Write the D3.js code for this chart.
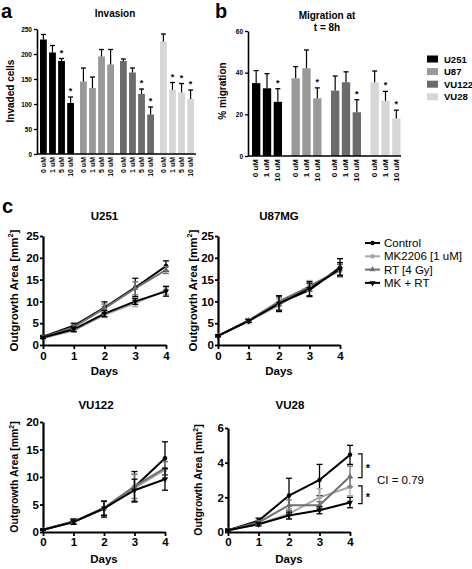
<!DOCTYPE html>
<html><head><meta charset="utf-8">
<script src="https://cdn.jsdelivr.net/npm/d3@7"></script>
<style>
body{margin:0;background:#fff;}
svg{display:block;font-family:"Liberation Sans",Arial,sans-serif;}
</style></head>
<body><svg id="c" width="472" height="569"></svg>
<script>
// ---------- data ----------
const cellLines = ["U251","U87","VU122","VU28"];
const barColors = ["#000000","#999999","#6b6b6b","#d6d6d6"];
const invConc = ["0 uM","1 uM","5 uM","10 uM"];
const invMean = [[229,203,186,102],[145,132,195,179],[186,163,120,79],[225,128,123,110]];
const invErr  = [[10,14,5,12],[27,22,14,30],[4,9,10,15],[15,15,18,18]];
const invStar = [[0,0,1,1],[0,0,0,0],[0,0,1,1],[0,1,1,1]];
const invTicks = [0,50,100,150,200,250];

const migConc = ["0 uM","1 uM","10 uM"];
const migMean = [[35,32.5,26],[37.3,42.1,27.7],[31.4,35.4,21],[35.4,26.5,18]];
const migErr  = [[6,7,6.3],[5.6,8.8,5],[7,5,6],[5.4,4.5,4]];
const migStar = [[0,0,1],[0,0,1],[0,0,1],[0,1,1]];
const migTicks = [0,20,40,60];

const days = [0,1,2,3,4];
const treatments = ["Control","MK2206 [1 uM]","RT [4 Gy]","MK + RT"];
const treatColors = ["#000000","#a8a8a8","#707070","#000000"];
const treatSymbols = ["circle","square","triangle","triangleDown"];

const u251Mean = [[1.9,4.4,8.6,13.2,18.1],[1.6,3.3,6.9,9.6,12.6],[1.8,4.1,8.4,13.0,17.2],[1.7,3.6,7.2,10.0,12.3]];
const u251Err  = [[0.3,0.6,1.3,2.1,1.2],[0.2,0.4,0.6,0.8,1.0],[0.2,0.5,1.0,1.5,0.8],[0.2,0.5,0.7,0.7,1.1]];
const u87Mean  = [[2.1,5.6,9.6,12.6,17.8],[2.1,5.5,9.1,13.6,17.0],[2.1,5.6,10.0,13.4,17.3],[2.1,5.5,9.5,12.9,17.4]];
const u87Err   = [[0.2,0.4,1.6,1.5,2.0],[0.2,0.6,1.5,1.2,1.5],[0.2,0.4,1.0,1.1,1.2],[0.2,0.3,1.8,1.6,1.5]];
const vu122Mean= [[0.4,1.9,4.2,8.2,13.4],[0.4,1.8,4.3,8.0,11.3],[0.4,1.9,4.4,8.3,11.6],[0.4,1.8,4.3,7.6,9.6]];
const vu122Err = [[0.1,0.5,1.5,2.8,3.0],[0.1,0.4,1.2,2.5,1.5],[0.1,0.4,1.3,2.2,1.2],[0.1,0.4,1.3,2.0,2.0]];
const vu28Mean = [[0.1,0.65,2.1,3.0,4.45],[0.1,0.45,1.05,2.0,2.6],[0.1,0.55,1.55,1.55,3.2],[0.1,0.45,0.95,1.25,1.7]];
const vu28Err  = [[0.05,0.15,1.0,0.9,0.55],[0.05,0.1,0.3,0.5,0.5],[0.05,0.1,0.3,0.2,0.6],[0.05,0.1,0.2,0.2,0.3]];

// ---------- drawing ----------
const svg = d3.select("#c");

function txt(x,y,s,size,bold,anchor,rot){
  const t = svg.append("text").attr("x",x).attr("y",y).text(s)
    .attr("font-size",size).attr("text-anchor",anchor||"start")
    .attr("font-weight",bold?"bold":"normal").attr("fill","#000");
  if(rot) t.attr("transform",`rotate(${rot},${x},${y})`);
  return t;
}

function barPanel(o){
  const g = svg.append("g");
  const y = d3.scaleLinear().domain([0,o.max]).range([o.y0,o.y1]);
  const xg = d3.scaleBand().domain(cellLines).range(o.xr).paddingInner(o.gpad).paddingOuter(0);
  const xb = d3.scaleBand().domain(o.conc).range([0,xg.bandwidth()]).paddingInner(o.bpad).paddingOuter(0);
  const ax = g.append("g").attr("transform",`translate(${o.ax},0)`)
    .call(d3.axisLeft(y).tickValues(o.ticks).tickSize(3).tickSizeOuter(0));
  ax.select(".domain").attr("stroke-width",1.6);
  ax.selectAll(".tick line").attr("stroke-width",1.3);
  ax.selectAll(".tick text").attr("font-size",6.5).attr("font-weight","bold").attr("font-family","Liberation Sans, Arial").attr("dx",1);
  cellLines.forEach((cl,gi)=>{
    o.conc.forEach((c,bi)=>{
      const v = o.mean[gi][bi], e = o.err[gi][bi];
      const x0 = xg(cl)+xb(c), w = xb.bandwidth(), cx = x0+w/2;
      g.append("rect").attr("x",x0).attr("y",y(v)).attr("width",w).attr("height",y(0)-y(v)).attr("fill",barColors[gi]);
      g.append("line").attr("x1",cx).attr("x2",cx).attr("y1",y(v)).attr("y2",y(v+e)).attr("stroke","#000").attr("stroke-width",1.2);
      g.append("line").attr("x1",cx-2.5).attr("x2",cx+2.5).attr("y1",y(v+e)).attr("y2",y(v+e)).attr("stroke","#000").attr("stroke-width",1.3);
      if(o.star[gi][bi]) txt(cx,y(v+e)-3,"*",9,true,"middle");
      txt(cx+2.3,y(0)+3,c,o.lsize,true,"end",-90);
    });
  });
  g.append("line").attr("x1",o.ax).attr("x2",o.xend).attr("y1",y(0)).attr("y2",y(0)).attr("stroke","#000").attr("stroke-width",1.6);
}

barPanel({max:250,y0:154,y1:29,ax:37,xr:[40,194],gpad:0.15,bpad:0.25,conc:invConc,mean:invMean,err:invErr,star:invStar,ticks:invTicks,xend:196,lsize:7});
barPanel({max:60,y0:156,y1:31,ax:248,xr:[252,400.5],gpad:0.24,bpad:0.23,conc:migConc,mean:migMean,err:migErr,star:migStar,ticks:migTicks,xend:401,lsize:8});

txt(1,18,"a",20,true);
txt(215,18,"b",20,true);
txt(115,17,"Invasion",10,true,"middle");
txt(327,19,"Migration at",10,true,"middle");
txt(327,31,"t = 8h",10,true,"middle");
txt(14,91,"Invaded cells",10,true,"middle",-90);
txt(226,91,"% migration",10,true,"middle",-90);

// legend a/b
cellLines.forEach((cl,i)=>{
  const yy = 59 + i*12.6;
  svg.append("rect").attr("x",427).attr("y",yy-3.5).attr("width",11).attr("height",7).attr("fill",barColors[i]);
  txt(444,yy+3.5,cl,9.5,true);
});

// ---------- growth panels ----------
const symMap = {circle:d3.symbolCircle,square:d3.symbolSquare,triangle:d3.symbolTriangle,triangleDown:d3.symbolTriangle};
function marker(g,x,y,i,size){
  const s = d3.symbol().type(symMap[treatSymbols[i]]).size(size||18);
  const p = g.append("path").attr("d",s()).attr("fill",treatColors[i]);
  p.attr("transform",`translate(${x},${y})`+(treatSymbols[i]==="triangleDown"?" rotate(180)":""));
}

function growthPanel(o){
  const g = svg.append("g");
  const x = d3.scaleLinear().domain([0,4]).range(o.xr);
  const y = d3.scaleLinear().domain([0,o.max]).range([o.y0,o.y1]);
  const ay = g.append("g").attr("transform",`translate(${o.xr[0]},0)`)
    .call(d3.axisLeft(y).tickValues(o.ticks).tickFormat(d3.format("d")).tickSize(3).tickSizeOuter(0).tickPadding(1));
  const ax = g.append("g").attr("transform",`translate(0,${o.y0})`)
    .call(d3.axisBottom(x).tickValues(days).tickFormat(d3.format("d")).tickSize(4).tickSizeOuter(0).tickPadding(o.xpad));
  [ay,ax].forEach(a=>{
    a.select(".domain").attr("stroke-width",2.2);
    a.selectAll(".tick line").attr("stroke-width",1.8);
    a.selectAll(".tick text").attr("font-size",11.5).attr("font-weight","bold").attr("font-family","Liberation Sans, Arial");
  });
  const line = d3.line().x((d,i)=>x(days[i])).y(d=>y(d));
  treatments.forEach((t,i)=>{
    g.append("path").datum(o.mean[i]).attr("d",line).attr("fill","none").attr("stroke",treatColors[i]).attr("stroke-width",2);
  });
  treatments.forEach((t,i)=>{
    o.mean[i].forEach((v,j)=>{
      const e = o.err[i][j], cx = x(days[j]);
      const ec = i===1 ? "#a8a8a8" : (i===2 ? "#707070" : "#000");
      g.append("line").attr("x1",cx).attr("x2",cx).attr("y1",y(v-e)).attr("y2",y(v+e)).attr("stroke",ec).attr("stroke-width",1.3);
      [v-e,v+e].forEach(z=>g.append("line").attr("x1",cx-3).attr("x2",cx+3).attr("y1",y(z)).attr("y2",y(z)).attr("stroke",ec).attr("stroke-width",1.3));
      marker(g,cx,y(v),i,16);
    });
  });
  txt((o.xr[0]+o.xr[1])/2+o.tdx,o.ty,o.title,11.5,true,"middle");
  txt((o.xr[0]+o.xr[1])/2,o.dy,"Days",11.5,true,"middle");
  const yl = svg.append("text").attr("font-weight","bold").attr("font-size",o.lfs).attr("text-anchor","middle")
    .attr("transform",`translate(${o.lx},${(o.y0+o.y1)/2}) rotate(-90)`);
  yl.append("tspan").text("Outgrowth Area [mm");
  yl.append("tspan").text("2").attr("font-size",o.lfs*0.65).attr("dy",-o.lfs*0.4);
  yl.append("tspan").text("]").attr("dy",o.lfs*0.4);
  return {x,y};
}

growthPanel({xr:[43,166],y0:345,y1:236,max:25,ticks:[0,5,10,15,20,25],mean:u251Mean,err:u251Err,title:"U251",ty:220,tdx:0,dy:375,lx:18,lfs:11.5,xpad:3});
growthPanel({xr:[218,340],y0:345,y1:236,max:25,ticks:[0,5,10,15,20,25],mean:u87Mean,err:u87Err,title:"U87MG",ty:220,tdx:0,dy:375,lx:197,lfs:11.5,xpad:3});
growthPanel({xr:[43,165],y0:532,y1:422,max:20,ticks:[0,5,10,15,20],mean:vu122Mean,err:vu122Err,title:"VU122",ty:409,tdx:-8,dy:563,lx:18,lfs:10.5,xpad:2});
const p4 = growthPanel({xr:[228,350],y0:532,y1:428,max:6,ticks:[0,2,4,6],mean:vu28Mean,err:vu28Err,title:"VU28",ty:409,tdx:1,dy:563,lx:202,lfs:10.5,xpad:2});

txt(2,213,"c",20,true);

// legend c
treatments.forEach((t,i)=>{
  const yy = 243 + i*13.3;
  svg.append("line").attr("x1",365).attr("x2",380).attr("y1",yy).attr("y2",yy).attr("stroke",treatColors[i]).attr("stroke-width",2);
  marker(svg,372.5,yy,i,16);
  txt(384,yy+4,t,11.5,false);
});

// VU28 significance brackets
function bracket(v1,v2){
  const ya = p4.y(v1)-1, yb = p4.y(v2)+1, xb = 362;
  svg.append("path").attr("d",`M${xb-4},${ya}H${xb}V${yb}H${xb-4}`).attr("fill","none").attr("stroke","#000").attr("stroke-width",1.2);
  txt(xb+6,(ya+yb)/2+6,"*",11,true,"middle");
}
bracket(vu28Mean[0][4],vu28Mean[2][4]);
bracket(vu28Mean[1][4],vu28Mean[3][4]);
txt(377,484,"CI = 0.79",11.5,false);
</script></body></html>
